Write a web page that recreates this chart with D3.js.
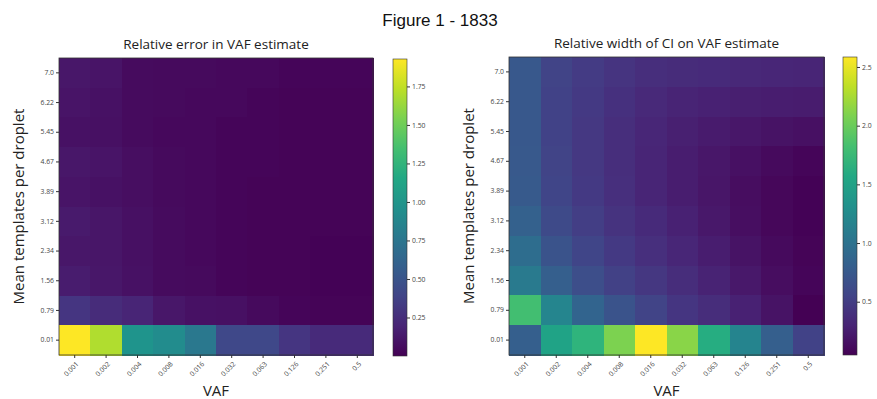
<!DOCTYPE html>
<html>
<head>
<meta charset="utf-8">
<script src="https://cdn.jsdelivr.net/npm/d3@7"></script>
<style>
  body { margin: 0; background: #fff; }
  svg { display: block; }
  .tick text { font-family: "Open Sans", sans-serif; fill: #444; }
</style>
</head>
<body>
<div id="chart"></div>
<script>
// VAF columns and template rows (rows listed top to bottom)
const vafLabels = ['0.001', '0.002', '0.004', '0.008', '0.016', '0.032', '0.063', '0.126', '0.251', '0.5'];
const templateLabels = ['7.0', '6.22', '5.45', '4.67', '3.89', '3.12', '2.34', '1.56', '0.79', '0.01'];

// Relative error in VAF estimate
const relError = [
  [0.12, 0.10, 0.06, 0.05, 0.05, 0.04, 0.04, 0.03, 0.03, 0.03],
  [0.10, 0.09, 0.06, 0.05, 0.04, 0.04, 0.03, 0.02, 0.02, 0.02],
  [0.09, 0.08, 0.06, 0.04, 0.04, 0.03, 0.03, 0.02, 0.02, 0.02],
  [0.12, 0.10, 0.07, 0.05, 0.04, 0.03, 0.03, 0.02, 0.02, 0.02],
  [0.10, 0.09, 0.07, 0.05, 0.04, 0.03, 0.02, 0.02, 0.02, 0.02],
  [0.13, 0.11, 0.08, 0.06, 0.04, 0.03, 0.02, 0.02, 0.02, 0.02],
  [0.12, 0.11, 0.08, 0.06, 0.04, 0.03, 0.02, 0.02, 0.01, 0.01],
  [0.15, 0.12, 0.09, 0.06, 0.05, 0.03, 0.02, 0.02, 0.01, 0.01],
  [0.30, 0.24, 0.20, 0.12, 0.09, 0.08, 0.05, 0.03, 0.02, 0.02],
  [1.93, 1.70, 1.00, 0.93, 0.77, 0.42, 0.42, 0.30, 0.23, 0.23]
];
const relErrorTicks = [0.25, 0.5, 0.75, 1.0, 1.25, 1.5, 1.75];

// Relative width of CI on VAF estimate
const ciWidth = [
  [0.74, 0.56, 0.49, 0.43, 0.38, 0.36, 0.35, 0.33, 0.32, 0.31],
  [0.74, 0.55, 0.47, 0.40, 0.34, 0.30, 0.28, 0.26, 0.25, 0.24],
  [0.74, 0.55, 0.46, 0.38, 0.32, 0.27, 0.23, 0.20, 0.17, 0.15],
  [0.75, 0.56, 0.46, 0.38, 0.31, 0.25, 0.20, 0.15, 0.11, 0.08],
  [0.76, 0.57, 0.47, 0.39, 0.31, 0.25, 0.19, 0.13, 0.09, 0.06],
  [0.82, 0.62, 0.51, 0.42, 0.35, 0.28, 0.21, 0.14, 0.09, 0.06],
  [0.94, 0.70, 0.57, 0.47, 0.39, 0.32, 0.25, 0.17, 0.11, 0.07],
  [1.08, 0.80, 0.65, 0.54, 0.45, 0.37, 0.29, 0.21, 0.13, 0.08],
  [1.82, 1.20, 0.85, 0.70, 0.56, 0.44, 0.37, 0.28, 0.17, 0.05],
  [0.80, 1.52, 1.70, 2.08, 2.585, 2.13, 1.62, 1.19, 0.80, 0.55]
];
const ciWidthTicks = [0.5, 1.0, 1.5, 2.0, 2.5];

const width = 877, height = 399;

const svg = d3.select('#chart').append('svg')
  .attr('width', width)
  .attr('height', height);

svg.append('text')
  .attr('x', 440).attr('y', 26)
  .attr('text-anchor', 'middle')
  .attr('font-family', 'Liberation Sans, Arial, sans-serif')
  .attr('font-size', '17px')
  .attr('fill', '#111')
  .text('Figure 1 - 1833');

const panels = [
  { title: 'Relative error in VAF estimate', data: relError, ticks: relErrorTicks, fmt: d3.format('.2f'),
    x0: 59, y0: 58, w: 314, h: 297, cbX: 393, cbY: 59, cbH: 297, cbTop: 1.928, cbBot: 0.0, id: 'cb1' },
  { title: 'Relative width of CI on VAF estimate', data: ciWidth, ticks: ciWidthTicks, fmt: d3.format('.1f'),
    x0: 509, y0: 57, w: 315, h: 298, cbX: 843, cbY: 57, cbH: 298, cbTop: 2.585, cbBot: 0.046, id: 'cb2' }
];

panels.forEach(p => {
  const g = svg.append('g').attr('transform', `translate(${p.x0}, ${p.y0})`);

  const xScale = d3.scaleBand().domain(vafLabels).range([0, p.w]);
  const yScale = d3.scaleBand().domain(templateLabels).range([0, p.h]);
  const color = d3.scaleSequential(d3.interpolateViridis).domain([p.cbBot, p.cbTop]);

  const cells = [];
  p.data.forEach((row, ri) => row.forEach((v, ci) => cells.push({ r: templateLabels[ri], c: vafLabels[ci], v })));

  g.selectAll('rect.cell')
    .data(cells)
    .join('rect')
    .attr('class', 'cell')
    .attr('x', d => xScale(d.c))
    .attr('y', d => yScale(d.r))
    .attr('width', xScale.bandwidth() + 0.6)
    .attr('height', yScale.bandwidth() + 0.6)
    .attr('shape-rendering', 'crispEdges')
    .attr('fill', d => color(d.v));

  g.append('rect')
    .attr('width', p.w).attr('height', p.h)
    .attr('fill', 'none')
    .attr('stroke', '#333')
    .attr('stroke-width', 0.8);

  // axes
  const xAxis = g.append('g')
    .attr('transform', `translate(0, ${p.h})`)
    .call(d3.axisBottom(xScale).tickSize(3).tickSizeOuter(0));
  xAxis.select('.domain').remove();
  xAxis.selectAll('line').attr('stroke', '#333');
  xAxis.selectAll('.tick text')
    .attr('font-size', '6.8px')
    .attr('text-anchor', 'end')
    .attr('transform', 'translate(2, 7) rotate(-45)')
    .attr('y', 0).attr('x', 0).attr('dy', '0.5em');

  const yAxis = g.append('g')
    .call(d3.axisLeft(yScale).tickSize(3).tickSizeOuter(0));
  yAxis.select('.domain').remove();
  yAxis.selectAll('line').attr('stroke', '#333');
  yAxis.selectAll('text').attr('font-size', '6.8px').attr('x', -5);

  // titles and labels
  g.append('text')
    .attr('x', p.w / 2).attr('y', -9)
    .attr('text-anchor', 'middle')
    .attr('font-family', 'Open Sans, sans-serif')
    .attr('font-size', '13.5px')
    .attr('fill', '#222')
    .text(p.title);

  g.append('text')
    .attr('x', p.w / 2).attr('y', p.h + 41)
    .attr('text-anchor', 'middle')
    .attr('font-family', 'Open Sans, sans-serif')
    .attr('font-size', '15px')
    .attr('fill', '#222')
    .text('VAF');

  g.append('text')
    .attr('transform', `translate(-35, ${p.h / 2}) rotate(-90)`)
    .attr('text-anchor', 'middle')
    .attr('font-family', 'Open Sans, sans-serif')
    .attr('font-size', '15px')
    .attr('fill', '#222')
    .text('Mean templates per droplet');

  // colorbar
  const defs = svg.append('defs');
  const grad = defs.append('linearGradient')
    .attr('id', p.id)
    .attr('x1', '0%').attr('y1', '100%')
    .attr('x2', '0%').attr('y2', '0%');
  d3.range(0, 1.0001, 0.1).forEach(t => {
    grad.append('stop').attr('offset', `${t * 100}%`).attr('stop-color', d3.interpolateViridis(t));
  });

  const cb = svg.append('g').attr('transform', `translate(${p.cbX}, ${p.cbY})`);
  cb.append('rect')
    .attr('width', 14).attr('height', p.cbH)
    .attr('fill', `url(#${p.id})`)
    .attr('stroke', '#333')
    .attr('stroke-width', 0.6);

  const cbScale = d3.scaleLinear().domain([p.cbBot, p.cbTop]).range([p.cbH, 0]);
  const cbAxis = cb.append('g')
    .attr('transform', 'translate(14, 0)')
    .call(d3.axisRight(cbScale).tickValues(p.ticks).tickFormat(p.fmt).tickSize(3));
  cbAxis.select('.domain').remove();
  cbAxis.selectAll('line').attr('stroke', '#333');
  cbAxis.selectAll('text').attr('font-size', '6.8px').attr('x', 5);
});
</script>
</body>
</html>
